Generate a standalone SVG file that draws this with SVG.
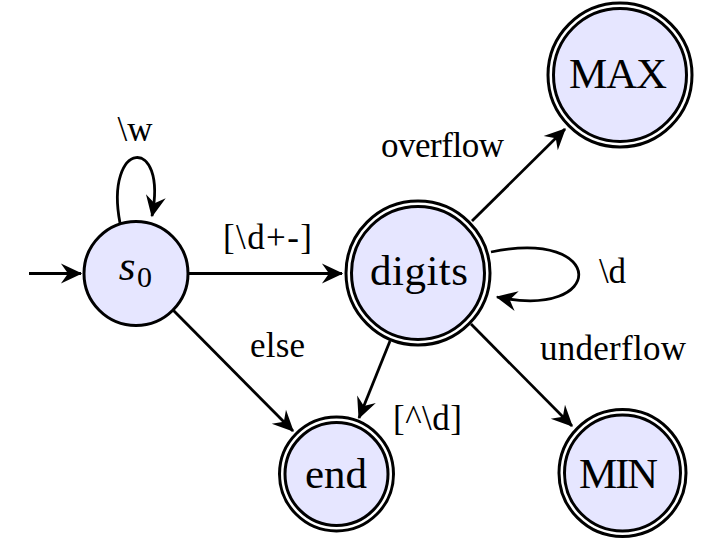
<svg xmlns="http://www.w3.org/2000/svg" width="702" height="542" viewBox="0 0 702 542">
<style>
.bg{fill:#ffffff}
.state{fill:#e6e6ff;stroke:#000;stroke-width:3}
.ring{fill:none;stroke:#000;stroke-width:3}
.edge{fill:none;stroke:#000;stroke-width:2.8}
.nt{font-family:"Liberation Serif",serif;font-size:43px;fill:#000;text-anchor:middle}
.lbl{font-family:"Liberation Serif",serif;font-size:35px;fill:#000;text-anchor:middle}
.sub{font-family:"Liberation Serif",serif;font-size:30px;fill:#000}
</style>
<defs>
<marker id="arr" markerUnits="userSpaceOnUse" markerWidth="26" markerHeight="26" viewBox="-20 -11 22 22" refX="0" refY="0" orient="auto">
<path d="M1,0 L-17,-8.5 L-11,0 L-17,8.5 Z" fill="#000"/>
</marker>
</defs>
<rect class="bg" x="0" y="0" width="702" height="542"/>
<g id="edges">
<line class="edge" x1="29" y1="273.5" x2="81" y2="273.5" marker-end="url(#arr)"/>
<path class="edge" d="M120,223 C104,140 168,134 152,216" marker-end="url(#arr)"/>
<line class="edge" x1="189" y1="273.5" x2="342" y2="273.5" marker-end="url(#arr)"/>
<line class="edge" x1="173" y1="310" x2="293" y2="431" marker-end="url(#arr)"/>
<line class="edge" x1="472" y1="221" x2="565" y2="129" marker-end="url(#arr)"/>
<path class="edge" d="M491,252 C607,228 607,320 497,297" marker-end="url(#arr)"/>
<line class="edge" x1="471" y1="324" x2="572" y2="426" marker-end="url(#arr)"/>
<line class="edge" x1="390" y1="341" x2="359" y2="418" marker-end="url(#arr)"/>
<text class="lbl" x="135" y="141">\w</text>
<text class="lbl" x="267.5" y="249" textLength="89">[\d+-]</text>
<text class="lbl" x="277.5" y="357" textLength="55">else</text>
<text class="lbl" x="442.5" y="157" textLength="123">overflow</text>
<text class="lbl" x="612.5" y="283">\d</text>
<text class="lbl" x="613" y="360" textLength="146">underflow</text>
<text class="lbl" x="427.5" y="430" textLength="69">[^\d]</text>
</g>
<g id="s0">
<circle class="state" cx="136" cy="273.5" r="52"/>
<text class="nt" x="127" y="280" style="font-style:italic">s</text>
<text class="sub" x="137" y="287">0</text>
</g>
<g id="digits">
<circle class="ring" cx="418" cy="273" r="72"/>
<circle class="state" cx="418" cy="273" r="66.5"/>
<text class="nt" x="419" y="285" textLength="98">digits</text>
</g>
<g id="MAX">
<circle class="ring" cx="620" cy="75" r="72"/>
<circle class="state" cx="620" cy="75" r="66.5"/>
<text class="nt" x="618" y="88" textLength="98">MAX</text>
</g>
<g id="end">
<circle class="ring" cx="336.5" cy="474" r="57"/>
<circle class="state" cx="336.5" cy="474" r="51.5"/>
<text class="nt" x="336" y="488" textLength="62">end</text>
</g>
<g id="MIN">
<circle class="ring" cx="622.5" cy="473" r="63.5"/>
<circle class="state" cx="622.5" cy="473" r="58"/>
<text class="nt" x="618.5" y="488" textLength="79">MIN</text>
</g>
</svg>
